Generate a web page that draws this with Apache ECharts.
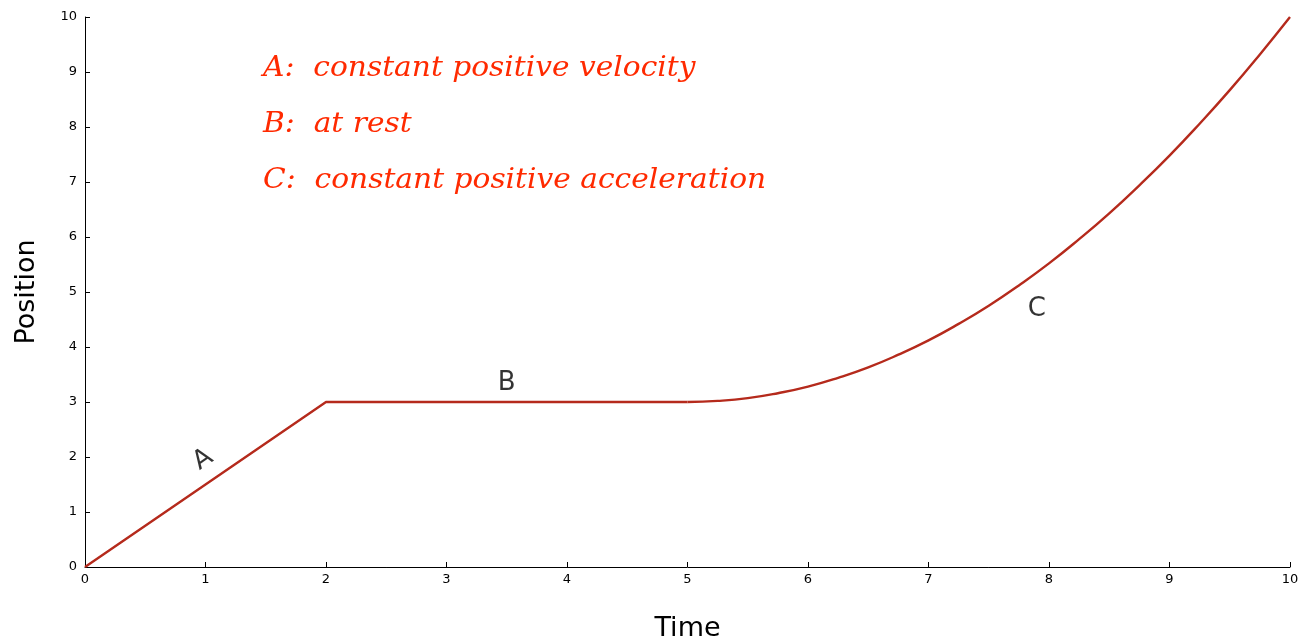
<!DOCTYPE html>
<html>
<head>
<meta charset="utf-8">
<script src="https://cdn.jsdelivr.net/npm/echarts@6/dist/echarts.min.js"></script>
<style>html,body{margin:0;padding:0;background:#fff}#c{width:1310px;height:643px}</style>
</head>
<body>
<div id="c"></div>
<script>
// Segments A and B (straight)
const timeAB = [0, 2, 5];
const positionAB = [0, 3, 3];
// Segment C (curved)
const timeC = [5, 5.25, 5.5, 5.75, 6, 6.25, 6.5, 6.75, 7, 7.25, 7.5, 7.75, 8, 8.25, 8.5, 8.75, 9, 9.25, 9.5, 9.75, 10];
const positionC = [3, 3.02, 3.07, 3.16, 3.28, 3.44, 3.63, 3.86, 4.12, 4.42, 4.75, 5.12, 5.52, 5.96, 6.43, 6.94, 7.48, 8.06, 8.67, 9.32, 10];
const segmentLabels = [
  {text: 'A', x: 0.98, y: 1.95, rotate: 34},
  {text: 'B', x: 3.5, y: 3.35, rotate: 0},
  {text: 'C', x: 7.9, y: 4.68, rotate: 0}
];
const notes = [
  'A:  constant positive velocity',
  'B:  at rest',
  'C:  constant positive acceleration'
];

const chart = echarts.init(document.getElementById('c'));
const font = 'DejaVu Sans';
const lineStyle = {color: '#b52a1c', width: 2.4};
chart.setOption({
  animation: false,
  grid: {left: 85, right: 20, top: 17, bottom: 76, outerBoundsMode: 'none', containLabel: false},
  xAxis: {
    type: 'value', min: 0, max: 10, interval: 1,
    name: 'Time', nameLocation: 'middle', nameGap: 48,
    nameTextStyle: {fontFamily: font, fontSize: 27, color: '#000'},
    axisLine: {lineStyle: {color: '#000', width: 1}},
    axisTick: {inside: true, length: 5, lineStyle: {color: '#000'}},
    axisLabel: {fontFamily: font, fontSize: 13, color: '#000', margin: 6},
    splitLine: {show: false}
  },
  yAxis: {
    type: 'value', min: 0, max: 10, interval: 1,
    name: 'Position', nameLocation: 'middle', nameGap: 45,
    nameTextStyle: {fontFamily: font, fontSize: 27, color: '#000'},
    axisLine: {show: true, lineStyle: {color: '#000', width: 1}},
    axisTick: {show: true, inside: true, length: 5, lineStyle: {color: '#000'}},
    axisLabel: {fontFamily: font, fontSize: 13, color: '#000', margin: 8},
    splitLine: {show: false}
  },
  series: [{
    type: 'line',
    data: timeAB.map((t, i) => [t, positionAB[i]]),
    showSymbol: false,
    lineStyle: lineStyle,
    z: 3
  }, {
    type: 'line',
    data: timeC.map((t, i) => [t, positionC[i]]),
    showSymbol: false,
    smooth: true,
    lineStyle: lineStyle,
    z: 3
  }, {
    type: 'scatter',
    symbolSize: 0,
    data: segmentLabels.map(s => ({
      value: [s.x, s.y],
      label: {
        show: true, position: 'inside', formatter: s.text, rotate: s.rotate,
        fontFamily: font, fontSize: 26, color: '#000', textBorderWidth: 0
      }
    })),
    silent: true
  }],
  graphic: notes.map((n, i) => ({
    type: 'text',
    left: 263,
    top: 55 + i * 56,
    scaleX: 1.06,
    style: {
      text: n,
      fontFamily: 'DejaVu Serif',
      fontStyle: 'italic',
      fontSize: 28,
      fill: '#ff2a00'
    }
  }))
});
</script>
</body>
</html>
